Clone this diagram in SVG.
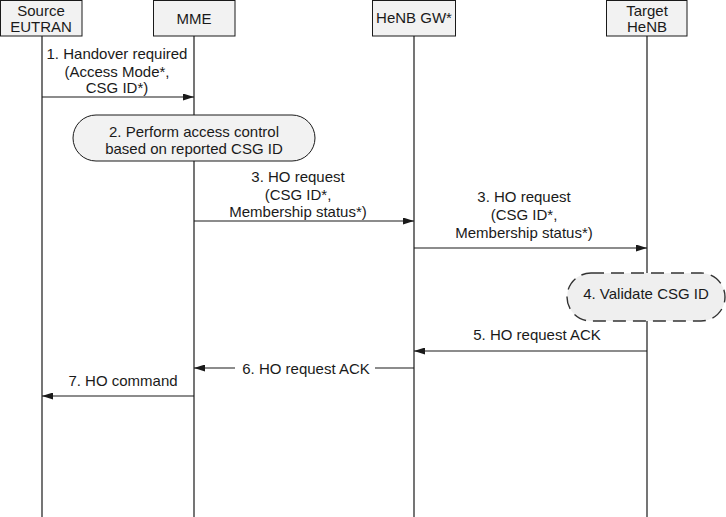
<svg xmlns="http://www.w3.org/2000/svg" width="726" height="517" viewBox="0 0 726 517">
  <style>
    text { font-family: "Liberation Sans", Arial, sans-serif; font-size: 15px; fill: #1a1a1a; text-anchor: middle; }
    .box { fill: #f2f2f2; stroke: #1a1a1a; stroke-width: 1; }
    .life { stroke: #1a1a1a; stroke-width: 1.2; fill: none; }
    .msg { stroke: #1a1a1a; stroke-width: 1.2; fill: none; }
    .proc { fill: #f2f2f2; stroke: #1a1a1a; stroke-width: 1; }
    .dproc { fill: #efefef; stroke: #333; stroke-width: 1.4; stroke-dasharray: 13 7; }
  </style>
  <defs>
    <marker id="ah" markerUnits="userSpaceOnUse" markerWidth="11" markerHeight="7" refX="11" refY="3.5" orient="auto">
      <path d="M0,0 L11,3.5 L0,7 z" fill="#1a1a1a"/>
    </marker>
  </defs>
  <rect width="726" height="517" fill="#ffffff"/>

  <g id="lifelines">
    <line class="life" x1="42" y1="36" x2="42" y2="517"/>
    <line class="life" x1="194" y1="36" x2="194" y2="517"/>
    <line class="life" x1="414" y1="36" x2="414" y2="517"/>
    <line class="life" x1="647" y1="36" x2="647" y2="517"/>
  </g>

  <g id="source-eutran">
    <rect class="box" x="0.5" y="0.5" width="81.5" height="35.5"/>
    <text x="41" y="16">Source</text>
    <text x="41" y="31.5">EUTRAN</text>
  </g>
  <g id="mme">
    <rect class="box" x="153.5" y="0.5" width="81.5" height="35.5"/>
    <text x="194" y="23.5">MME</text>
  </g>
  <g id="henb-gw">
    <rect class="box" x="372.5" y="0.5" width="83" height="35.5"/>
    <text x="414" y="22.5">HeNB GW*</text>
  </g>
  <g id="target-henb">
    <rect class="box" x="606.5" y="0.5" width="80.5" height="35.5"/>
    <text x="647" y="15.5">Target</text>
    <text x="647" y="31.5">HeNB</text>
  </g>

  <g id="step2">
    <rect class="proc" x="73" y="115" width="242" height="46" rx="23" ry="23"/>
    <text x="194" y="137">2. Perform access control</text>
    <text x="194" y="154">based on reported CSG ID</text>
  </g>

  <g id="step4">
    <rect class="dproc" x="567" y="273" width="158" height="48" rx="24" ry="24"/>
    <text x="646" y="298.5">4. Validate CSG ID</text>
  </g>

  <g id="connectors">
    <line class="msg" x1="42" y1="97" x2="194" y2="97" marker-end="url(#ah)"/>
    <line class="msg" x1="194" y1="221" x2="414" y2="221" marker-end="url(#ah)"/>
    <line class="msg" x1="414" y1="248" x2="647" y2="248" marker-end="url(#ah)"/>
    <line class="msg" x1="647" y1="351" x2="414" y2="351" marker-end="url(#ah)"/>
    <line class="msg" x1="414" y1="368" x2="375" y2="368"/>
    <line class="msg" x1="235" y1="368" x2="194" y2="368" marker-end="url(#ah)"/>
    <line class="msg" x1="194" y1="396" x2="42" y2="396" marker-end="url(#ah)"/>
  </g>

  <g id="labels">
    <text x="117" y="58.5">1. Handover required</text>
    <text x="117" y="76.5">(Access Mode*,</text>
    <text x="117" y="93">CSG ID*)</text>

    <text x="298" y="182">3. HO request</text>
    <text x="298" y="200">(CSG ID*,</text>
    <text x="298" y="217">Membership status*)</text>

    <text x="524" y="202">3. HO request</text>
    <text x="524" y="220">(CSG ID*,</text>
    <text x="524" y="237.5">Membership status*)</text>

    <text x="537" y="340">5. HO request ACK</text>
    <text x="306" y="373.5">6. HO request ACK</text>
    <text x="123" y="386">7. HO command</text>
  </g>
</svg>
